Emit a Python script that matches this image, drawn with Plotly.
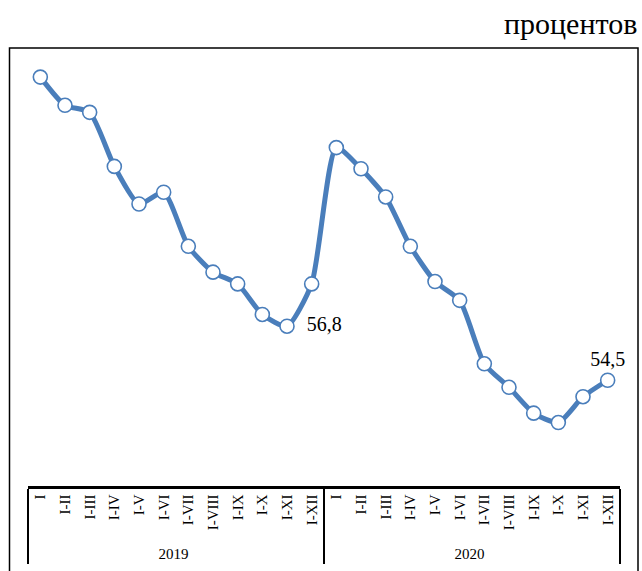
import plotly.graph_objects as go

years = ["2019"] * 12 + ["2020"] * 12
months = ["I", "I-II", "I-III", "I-IV", "I-V", "I-VI", "I-VII", "I-VIII", "I-IX", "I-X", "I-XI", "I-XII"] * 2
values = [67.4, 66.2, 65.9, 63.6, 62.0, 62.5, 60.2, 59.1, 58.6, 57.3, 56.8, 58.6,
          64.4, 63.5, 62.3, 60.2, 58.7, 57.9, 55.2, 54.2, 53.1, 52.7, 53.8, 54.5]
labelled = {10: "middle right", 23: "top center"}

def fmt(i, v):
    if i not in labelled:
        return ""
    s = f"{v:.1f}".replace(".", ",")
    return "\u00a0\u00a0" + s if labelled[i] == "middle right" else s

texts = [fmt(i, v) for i, v in enumerate(values)]
positions = [labelled.get(i, "top center") for i in range(len(values))]

W, H = 642, 571
ml, mr, mt, mb = 28, 22, 63, 85
pw, ph = W - ml - mr, H - mt - mb

blue = "#4a7ebb"
serif = "Liberation Serif, Times New Roman, serif"

fig = go.Figure()
fig.add_trace(go.Scatter(
    x=[years, months], y=values,
    mode="lines+markers+text",
    line=dict(color=blue, width=5, shape="spline", smoothing=0.6),
    marker=dict(symbol="circle", size=14, color="white", line=dict(color=blue, width=1.6)),
    text=texts, textposition=positions,
    textfont=dict(family=serif, size=20, color="black"),
    cliponaxis=False, hoverinfo="skip", showlegend=False,
))

def px_x(p):
    return (p - ml) / pw

def px_y(p):
    return (H - mb - p) / ph

fig.add_shape(type="rect", xref="paper", yref="paper",
              x0=px_x(9.5), x1=px_x(638), y0=px_y(600), y1=px_y(48),
              line=dict(color="black", width=1.5), fillcolor="rgba(0,0,0,0)", layer="below")

fig.add_annotation(text="процентов", xref="paper", yref="paper",
                   x=px_x(639), y=px_y(42), xanchor="right", yanchor="bottom",
                   showarrow=False, font=dict(family=serif, size=30, color="black"))

fig.update_layout(
    width=W, height=H,
    margin=dict(l=ml, r=mr, t=mt, b=mb, pad=0, autoexpand=False),
    paper_bgcolor="white", plot_bgcolor="white",
    font=dict(family=serif, color="black"),
    xaxis=dict(
        type="multicategory", range=[-0.5, len(values) - 0.5], autorange=False,
        automargin=False,
        showline=True, linecolor="black", linewidth=2.5,
        ticks="", tickangle=-90, tickfont=dict(family=serif, size=15, color="black"),
        showgrid=False, showdividers=True, dividercolor="black", dividerwidth=1.5,
        zeroline=False,
    ),
    yaxis=dict(range=[50, 68], visible=False, showgrid=False, zeroline=False, automargin=False),
)

fig.write_html("out.html", config={"displayModeBar": False, "staticPlot": True},
               post_script="document.body.style.margin='0px';document.body.style.overflow='hidden';")
